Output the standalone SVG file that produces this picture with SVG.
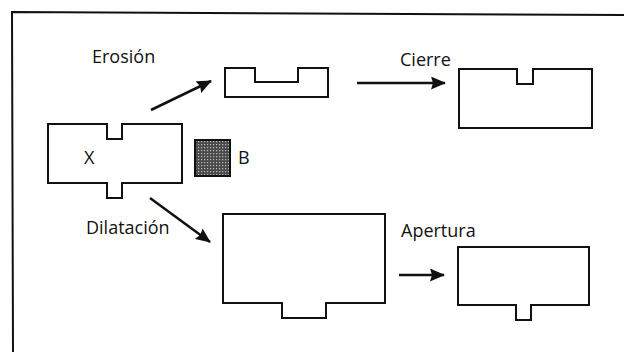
<svg xmlns="http://www.w3.org/2000/svg" width="624" height="352" viewBox="0 0 624 352">
<style>
.s{fill:none;stroke:#111;stroke-width:2;stroke-linejoin:miter}
.t{font-family:"Open Sans","Liberation Sans",sans-serif;font-size:18px;fill:#111}
.c{stroke:#111;stroke-width:2.5;fill:none}
</style>
<defs>
<marker id="ah" markerWidth="15" markerHeight="13" refX="14" refY="6.5" orient="auto" markerUnits="userSpaceOnUse" viewBox="0 0 15 13">
<path d="M0,0 L15,6.5 L0,13 L2,6.5 Z" fill="#111"/>
</marker>
<pattern id="dots" width="3" height="3" patternUnits="userSpaceOnUse">
<rect width="3" height="3" fill="#4a4a4a"/>
<rect x="0" y="0" width="1.2" height="1.2" fill="#bbb"/>
</pattern>
</defs>
<path d="M13,352 L12,12 L624,15" class="s"/>
<g id="X">
<path class="s" d="M48,124 H107 V139 H122 V124 H182 V183 H122 V198 H107 V183 H48 Z"/>
<text class="t" x="84" y="164">X</text>
</g>
<g id="B">
<rect x="195" y="140" width="35" height="36" fill="url(#dots)" stroke="#111" stroke-width="2"/>
<text class="t" x="238" y="164">B</text>
</g>
<g id="erosion">
<path class="s" d="M225,68 H255 V82 H298 V68 H328 V97 H225 Z"/>
</g>
<g id="cierre">
<path class="s" d="M459,69 H517 V84 H533 V69 H592 V128 H459 Z"/>
</g>
<g id="dilatacion">
<path class="s" d="M223,214 H385 V303 H326 V318 H282 V303 H223 Z"/>
</g>
<g id="apertura">
<path class="s" d="M458,247 H589 V305 H531 V320 H516 V305 H458 Z"/>
</g>
<g id="connectors">
<line class="c" x1="151" y1="110" x2="211" y2="81" marker-end="url(#ah)"/>
<line class="c" x1="357" y1="83" x2="445" y2="83" marker-end="url(#ah)"/>
<line class="c" x1="150" y1="198" x2="210" y2="242" marker-end="url(#ah)"/>
<line class="c" x1="399" y1="275" x2="444" y2="275" marker-end="url(#ah)"/>
</g>
<g id="labels">
<text class="t" x="92" y="63">Erosión</text>
<text class="t" x="400" y="66">Cierre</text>
<text class="t" x="86" y="234">Dilatación</text>
<text class="t" x="401" y="237">Apertura</text>
</g>
</svg>
